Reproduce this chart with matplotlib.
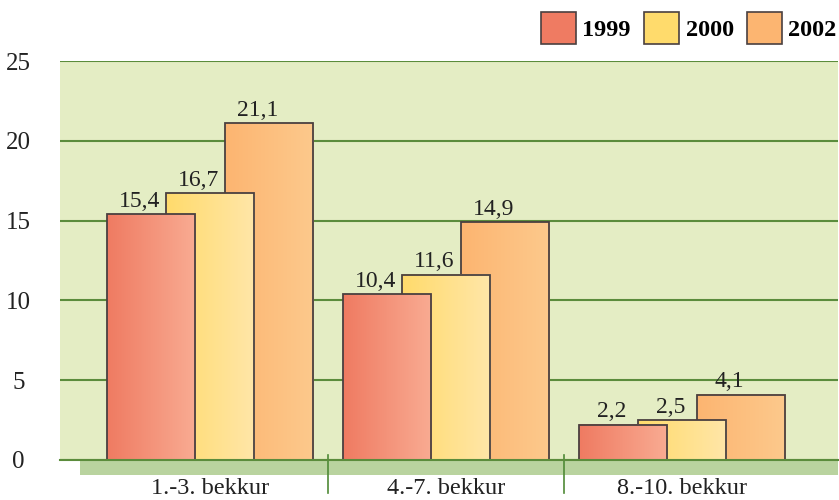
import numpy as np
import matplotlib
matplotlib.use('Agg')
import matplotlib.pyplot as plt
from matplotlib.colors import LinearSegmentedColormap
from matplotlib.patches import Rectangle

plt.rcParams['font.family'] = ['Liberation Serif', 'DejaVu Serif']

# 데이터
flokkar = ['1.-3. bekkur', '4.-7. bekkur', '8.-10. bekkur']
ar = ['1999', '2000', '2002']
gildi_1999 = [15.4, 10.4, 2.2]
gildi_2000 = [16.7, 11.6, 2.5]
gildi_2002 = [21.1, 14.9, 4.1]
y_ticks = [0, 5, 10, 15, 20, 25]

series = [gildi_1999, gildi_2000, gildi_2002]
# 좌->우 그라데이션 색
grad = [('#ef7b62', '#f9ab92'), ('#ffdb6c', '#ffe6a8'), ('#fcb571', '#fdc98c')]
offsets = [-0.25, 0.0, 0.25]
zorders = [6, 5, 4]
width = 0.373

fig = plt.figure(figsize=(8.39, 5.0), dpi=100)
ax = fig.add_axes([60/839, 40/500, 778/839, 399/500])
ax.set_facecolor('#e4edc4')

x = np.arange(len(flokkar))

handles = []
for i, vals in enumerate(series):
    pos = x + offsets[i]
    bars = ax.bar(pos, vals, width=width, facecolor='none', edgecolor='#4a4040',
                  linewidth=1.3, zorder=zorders[i] + 0.5)
    cmap = LinearSegmentedColormap.from_list('g%d' % i, grad[i])
    g = np.linspace(0, 1, 64).reshape(1, -1)
    for b in bars:
        bx, bw, bh = b.get_x(), b.get_width(), b.get_height()
        ax.imshow(g, cmap=cmap, extent=(bx, bx + bw, 0, bh), aspect='auto',
                  zorder=zorders[i], interpolation='bicubic')
        ax.text(bx + bw / 2 - 0.05, bh + 0.15, ('%.1f' % bh).replace('.', ','),
                ha='center', va='bottom', fontsize=17, color='#222222',
                zorder=zorders[i] + 1)
    handles.append(Rectangle((0, 0), 1, 1, facecolor=grad[i][0], edgecolor='#4a4040',
                             linewidth=1.2))

ax.set_xlim(-0.636, 2.661)
ax.set_ylim(0, 25)

# 격자선
ax.set_yticks(y_ticks)
ax.grid(axis='y', color='#5b8c3c', linewidth=1.5, zorder=1)
ax.set_axisbelow(True)
ax.tick_params(axis='y', length=0, pad=30, labelsize=18, colors='#222222')
for t in ax.get_yticklabels():
    t.set_horizontalalignment('center')
for s in ['left', 'right', 'top']:
    ax.spines[s].set_visible(False)
ax.spines['bottom'].set_color('#5b8c3c')
ax.spines['bottom'].set_linewidth(1.5)
ax.spines['bottom'].set_zorder(8)

# 바닥(3D 느낌)
ax.add_patch(Rectangle((-0.551, -0.94), 2.661 + 0.551, 0.94, facecolor='#b9d39f',
                       edgecolor='none', clip_on=False, zorder=0))
for sep in [0.5, 1.5]:
    ax.plot([sep, sep], [0.3, -2.07], color='#4f8a36', linewidth=1.2,
            clip_on=False, zorder=7)

ax.set_xticks(x)
ax.set_xticklabels(flokkar, fontsize=17.5, color='#222222')
ax.tick_params(axis='x', length=0, pad=13)

leg = fig.legend(handles, ar, loc='upper right', bbox_to_anchor=(1.0, 1.0 - 10/500),
                 ncol=3, frameon=False, handlelength=1.45, handleheight=1.6,
                 handletextpad=0.25, columnspacing=0.55, borderaxespad=0.0,
                 borderpad=0.1, prop={'weight': 'bold', 'size': 17.5})

fig.savefig('out.png', dpi=100)
